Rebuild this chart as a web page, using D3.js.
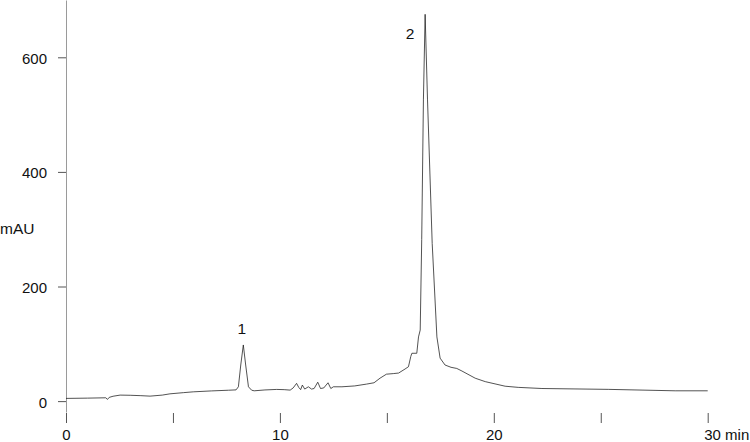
<!DOCTYPE html>
<html>
<head>
<meta charset="utf-8">
<script src="https://cdn.jsdelivr.net/npm/d3@7"></script>
<style>
  html, body { margin: 0; padding: 0; background: #fff; }
  svg { display: block; font-family: "Liberation Sans", Arial, sans-serif; }
</style>
</head>
<body>
<div class="chart"></div>
<script>
// retention time (min) and absorbance (mAU)
const times = [
  0.00, 1.00, 1.86, 1.94, 2.02, 2.20, 2.53, 3.00, 3.50, 3.93,
  4.50, 4.86, 5.50, 5.95, 6.80, 7.60, 7.95, 8.06, 8.17, 8.29,
  8.40, 8.53, 8.68, 8.80, 9.30, 9.85, 10.20, 10.48, 10.62, 10.78,
  10.88, 10.97, 11.05, 11.16, 11.33, 11.48, 11.60, 11.77, 11.90, 12.05,
  12.25, 12.38, 12.50, 12.90, 13.50, 14.05, 14.40, 14.68, 14.98, 15.30,
  15.55, 15.85, 16.01, 16.12, 16.17, 16.40, 16.48, 16.56, 16.63, 16.71,
  16.79, 16.90, 17.12, 17.34, 17.49, 17.72, 18.00, 18.27, 18.51,
  19.13, 19.60, 20.53, 21.14, 22.25, 25.35, 28.48, 30.00
];
const mAU = [
  4.7, 5.2, 5.8, 3.0, 6.5, 8.5, 10.5, 10.2, 9.5, 8.7,
  10.5, 12.7, 14.8, 16.2, 17.8, 19.0, 19.6, 25, 63, 98,
  63, 25, 19, 18, 19.5, 20.4, 20, 19.2, 23, 31,
  24, 20, 28, 21, 25, 21, 22, 33, 22, 23,
  32, 22, 25, 25, 26.5, 29.7, 32, 40, 47, 48,
  49, 56, 60, 78, 83.5, 83.5, 112, 124, 282, 527,
  675, 527, 275, 112, 75, 63, 59, 57, 52.5,
  40, 34, 26, 24, 22, 20.5, 18, 18
];

const xTicks = [0, 5, 10, 15, 20, 25, 30];
const xLabels = {0: "0", 10: "10", 20: "20", 30: "30 min"};
const yTicks = [0, 200, 400, 600];

const peakNames = ["1", "2"];
const peakTimes = [8.29, 16.79];
const peakHeights = [98, 675];

const width = 750, height = 442;

const svg = d3.select(".chart")
  .append("svg")
  .attr("width", width)
  .attr("height", height);

const xScale = d3.scaleLinear().domain([0, 30]).range([66, 707.7]);
const yScale = d3.scaleLinear().domain([-19, 700]).range([412, 0]);

// y axis
const yAxis = d3.axisLeft(yScale)
  .tickValues(yTicks)
  .tickSize(8)
  .tickSizeOuter(0)
  .tickPadding(11);

const gy = svg.append("g")
  .attr("transform", "translate(66,0)")
  .call(yAxis);
gy.select(".domain").attr("stroke", "#9a9a9a").attr("stroke-width", 1);
gy.selectAll(".tick line").attr("stroke", "#555");
gy.selectAll(".tick text")
  .attr("dy", "0.4em")
  .attr("fill", "#111")
  .style("font-size", "15px")
  .style("font-family", "Liberation Sans, Arial, sans-serif");

// x axis (ticks only, no baseline)
const xAxis = d3.axisBottom(xScale)
  .tickValues(xTicks)
  .tickSize(10)
  .tickSizeOuter(0)
  .tickFormat(d => xLabels[d] || "");

const gx = svg.append("g")
  .attr("transform", "translate(0,413)")
  .call(xAxis);
gx.select(".domain").remove();
gx.selectAll(".tick line").attr("stroke", "#555");
gx.selectAll(".tick text")
  .attr("y", 27)
  .attr("dy", "0")
  .attr("fill", "#111")
  .style("font-size", "15px")
  .style("font-family", "Liberation Sans, Arial, sans-serif")
  .filter(d => d === 30)
  .attr("text-anchor", "start")
  .attr("x", -4);

// y axis title
svg.append("text")
  .attr("x", 0)
  .attr("y", 233.5)
  .attr("fill", "#111")
  .style("font-size", "15.5px")
  .text("mAU");

// trace
const pts = times.map((t, i) => [t, mAU[i]]);
const line = d3.line()
  .x(d => xScale(d[0]))
  .y(d => yScale(d[1]));

svg.append("path")
  .datum(pts)
  .attr("fill", "none")
  .attr("stroke", "#1a1a1a")
  .attr("stroke-width", 0.75)
  .attr("stroke-linejoin", "round")
  .attr("d", line);

// peak numbers
svg.selectAll(".peak")
  .data(peakNames)
  .enter()
  .append("text")
  .attr("class", "peak")
  .attr("x", (d, i) => xScale(peakTimes[i]) + (i === 0 ? -1.5 : -15))
  .attr("y", (d, i) => yScale(peakHeights[i]) + (i === 0 ? -11 : 25))
  .attr("text-anchor", "middle")
  .attr("fill", "#111")
  .style("font-size", "15.5px")
  .text(d => d);
</script>
</body>
</html>
